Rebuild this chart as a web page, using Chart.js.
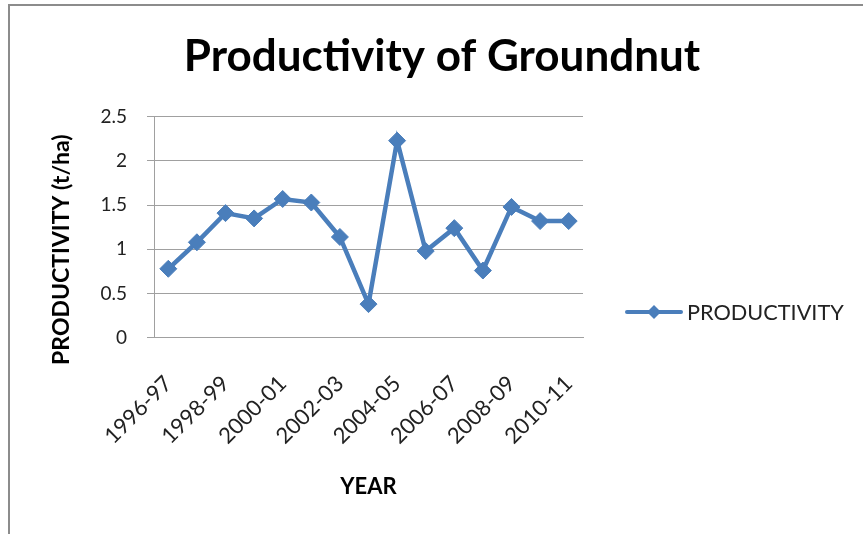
<!DOCTYPE html>
<html>
<head>
<meta charset="utf-8">
<title>Productivity of Groundnut</title>
<script src="https://cdn.jsdelivr.net/npm/chart.js@4.4.1/dist/chart.umd.min.js"></script>
<style>
  html, body { margin: 0; padding: 0; background: #ffffff; }
  #wrap { position: relative; width: 863px; height: 534px; overflow: hidden; }
  #frame {
    position: absolute; left: 8px; top: 4px; width: 900px; height: 600px;
    border-left: 2px solid #8c8c8c; border-top: 2px solid #8c8c8c;
    box-sizing: border-box; pointer-events: none;
  }
  canvas { position: absolute; left: 0; top: 0; }
</style>
</head>
<body>
<div id="wrap">
  <canvas id="chart" width="863" height="534"></canvas>
  <div id="frame"></div>
</div>
<script>
// Groundnut productivity by crop year (t/ha)
const years = ['1996-97', '1997-98', '1998-99', '1999-00', '2000-01', '2001-02', '2002-03',
  '2003-04', '2004-05', '2005-06', '2006-07', '2007-08', '2008-09', '2009-10', '2010-11'];
const productivity = [0.78, 1.08, 1.41, 1.35, 1.57, 1.53, 1.14, 0.38, 2.23, 0.98, 1.24, 0.76, 1.48, 1.32, 1.32];
const yTicks = [0, 0.5, 1, 1.5, 2, 2.5];
const seriesName = 'PRODUCTIVITY';

const BLUE = '#4a7ebb';
const GRID = '#a0a0a0';
const TEXT = '#222222';
const FONT = 'Lato, "Open Sans", sans-serif';

// Legend on the right: a short line with a diamond, then the series name
const sideLegend = {
  id: 'sideLegend',
  afterDraw(chart) {
    const { ctx, chartArea } = chart;
    const x0 = chartArea.right + 44;
    const y = 312;
    ctx.save();
    ctx.strokeStyle = BLUE;
    ctx.lineWidth = 4;
    ctx.lineCap = 'round';
    ctx.beginPath();
    ctx.moveTo(x0, y);
    ctx.lineTo(x0 + 54, y);
    ctx.stroke();
    ctx.fillStyle = BLUE;
    ctx.beginPath();
    const cx = x0 + 27, r = 7;
    ctx.moveTo(cx, y - r);
    ctx.lineTo(cx + r, y);
    ctx.lineTo(cx, y + r);
    ctx.lineTo(cx - r, y);
    ctx.closePath();
    ctx.fill();
    ctx.fillStyle = TEXT;
    ctx.font = '21.7px ' + FONT;
    ctx.textBaseline = 'middle';
    ctx.textAlign = 'left';
    ctx.fillText(seriesName, x0 + 60, y + 1);
    ctx.restore();
  }
};

new Chart(document.getElementById('chart'), {
  type: 'line',
  data: {
    labels: years,
    datasets: [{
      label: seriesName,
      data: productivity,
      borderColor: BLUE,
      backgroundColor: BLUE,
      borderWidth: 4.5,
      pointStyle: 'rectRot',
      pointRadius: 8.5,
      pointBorderWidth: 1,
      pointBackgroundColor: BLUE,
      pointBorderColor: BLUE,
      tension: 0,
      fill: false
    }]
  },
  options: {
    responsive: false,
    animation: false,
    layout: { padding: { left: 21, right: 0, top: 0, bottom: 0 } },
    plugins: {
      legend: { display: false },
      tooltip: { enabled: false },
      title: {
        display: true,
        text: 'Productivity of Groundnut',
        color: '#000000',
        font: { family: FONT, size: 44, weight: 'bold' },
        padding: { top: 30, bottom: 34 }
      }
    },
    scales: {
      x: {
        offset: true,
        grid: { display: false },
        border: { display: true, color: GRID, width: 1 },
        ticks: {
          autoSkip: false,
          minRotation: 45,
          maxRotation: 45,
          padding: 25,
          color: TEXT,
          font: { family: FONT, size: 22 },
          callback: (v, i) => (i % 2 === 0 ? years[i] : '')
        },
        title: {
          display: true,
          text: 'YEAR',
          color: '#000000',
          font: { family: FONT, size: 22, weight: 'bold' },
          padding: { top: 0, bottom: 34 }
        },
        afterFit(scale) { scale.height = 196.3; }
      },
      y: {
        min: 0,
        max: 2.5,
        afterBuildTicks(scale) { scale.ticks = yTicks.map(v => ({ value: v })); },
        grid: { color: GRID, lineWidth: 1, tickLength: 7, drawTicks: true },
        border: { display: true, color: GRID, width: 1 },
        ticks: {
          padding: 20,
          color: TEXT,
          font: { family: FONT, size: 19 },
          callback: v => String(v)
        },
        title: {
          display: true,
          // trailing spaces move the rotated title a little below the axis midpoint
          text: 'PRODUCTIVITY (t/ha)' + '\u00a0'.repeat(8),
          color: '#000000',
          font: { family: FONT, size: 23, weight: 'bold' },
          padding: { top: 27, bottom: 0 }
        },
        afterFit(scale) { scale.width = 133; }
      },
      // empty right-hand gutter that holds the legend
      gutter: {
        type: 'linear',
        position: 'right',
        display: true,
        grid: { display: false, drawTicks: false },
        border: { display: false },
        ticks: { display: false },
        afterFit(scale) { scale.width = 280; }
      }
    }
  },
  plugins: [sideLegend]
});
</script>
</body>
</html>
